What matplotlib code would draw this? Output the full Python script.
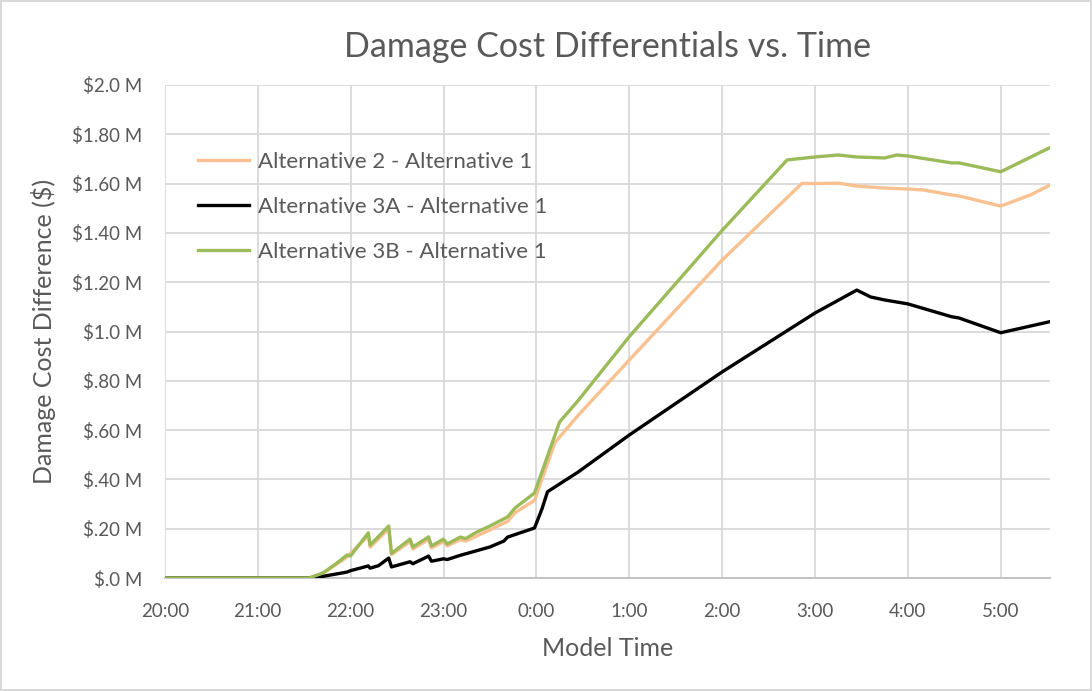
import matplotlib.pyplot as plt

plt.rcParams['font.family'] = ['Lato', 'DejaVu Sans']

# Time axis in hours after 20:00
hour_ticks = [0, 1, 2, 3, 4, 5, 6, 7, 8, 9]
hour_labels = ["20:00", "21:00", "22:00", "23:00", "0:00", "1:00", "2:00", "3:00", "4:00", "5:00"]

y_ticks = [0.0, 0.2, 0.4, 0.6, 0.8, 1.0, 1.2, 1.4, 1.6, 1.8, 2.0]
y_labels = ["$.0 M", "$.20 M", "$.40 M", "$.60 M", "$.80 M", "$1.0 M",
            "$1.20 M", "$1.40 M", "$1.60 M", "$1.80 M", "$2.0 M"]

# Alternative 2 - Alternative 1 (millions of $)
alt2_t = [0, 1.55, 1.7, 1.96, 2.19, 2.21, 2.41, 2.44, 2.64, 2.67, 2.84, 2.87,
          3.0, 3.04, 3.18, 3.24, 3.5, 3.69, 3.77, 3.98, 4.2, 4.45, 5.0, 6.0,
          6.86, 7.0, 7.25, 7.45, 7.75, 8.0, 8.17, 8.47, 8.55, 9.0, 9.32, 9.53]
alt2_v = [0, 0, 0.018, 0.085, 0.172, 0.125, 0.2, 0.095, 0.148, 0.118, 0.157, 0.122,
          0.148, 0.13, 0.155, 0.15, 0.195, 0.23, 0.265, 0.315, 0.55, 0.66, 0.884, 1.29,
          1.601, 1.60, 1.602, 1.59, 1.582, 1.578, 1.574, 1.554, 1.55, 1.509, 1.554, 1.594]

# Alternative 3A - Alternative 1
alt3a_t = [0, 1.6, 1.75, 1.96, 2.0, 2.19, 2.21, 2.30, 2.41, 2.44, 2.64, 2.67,
           2.84, 2.87, 3.0, 3.04, 3.18, 3.35, 3.5, 3.65, 3.69, 3.98, 4.06, 4.12,
           4.45, 5.0, 6.0, 7.0, 7.45, 7.6, 7.75, 8.0, 8.47, 8.55, 9.0, 9.53]
alt3a_v = [0, 0, 0.01, 0.024, 0.03, 0.049, 0.04, 0.05, 0.081, 0.045, 0.066, 0.058,
           0.089, 0.068, 0.078, 0.075, 0.092, 0.11, 0.126, 0.15, 0.166, 0.203, 0.28, 0.35,
           0.43, 0.58, 0.836, 1.075, 1.168, 1.14, 1.128, 1.112, 1.06, 1.055, 0.995, 1.04]

# Alternative 3B - Alternative 1
alt3b_t = [0, 1.55, 1.7, 1.85, 1.96, 2.0, 2.19, 2.21, 2.41, 2.44, 2.64, 2.67,
           2.84, 2.87, 3.0, 3.04, 3.18, 3.24, 3.35, 3.5, 3.69, 3.77, 3.98, 4.25,
           4.45, 5.0, 6.0, 6.70, 7.0, 7.25, 7.45, 7.75, 7.88, 8.0, 8.47, 8.55, 9.0, 9.53]
alt3b_v = [0, 0, 0.02, 0.06, 0.093, 0.09, 0.183, 0.134, 0.211, 0.10, 0.158, 0.126,
           0.167, 0.13, 0.158, 0.138, 0.166, 0.160, 0.185, 0.211, 0.248, 0.284, 0.345, 0.633,
           0.72, 0.979, 1.41, 1.696, 1.708, 1.716, 1.708, 1.704, 1.716, 1.712, 1.684, 1.684, 1.648, 1.746]

text_color = '#595959'

fig = plt.figure(figsize=(10.92, 6.91), dpi=100)
fig.patch.set_edgecolor('#d9d9d9')
fig.patch.set_linewidth(1.5)
ax = fig.add_axes([0.151, 0.1635, 0.8105, 0.7135])

ax.plot(alt2_t, alt2_v, color='#F9C18F', lw=2.4, label='Alternative 2 - Alternative 1', zorder=3)
ax.plot(alt3a_t, alt3a_v, color='black', lw=2.4, label='Alternative 3A - Alternative 1', zorder=4)
ax.plot(alt3b_t, alt3b_v, color='#9BBB59', lw=2.4, label='Alternative 3B - Alternative 1', zorder=5)

ax.set_xlim(0, 9.53)
ax.set_ylim(0, 2.0)
ax.set_xticks(hour_ticks)
ax.set_xticklabels(hour_labels)
ax.set_yticks(y_ticks)
ax.set_yticklabels(y_labels)
ax.tick_params(axis='both', length=0, colors=text_color, labelsize=13.5)
ax.tick_params(axis='x', pad=18)
ax.tick_params(axis='y', pad=16)

ax.grid(True, color='#d9d9d9', lw=1.3)
ax.set_axisbelow(True)
for side in ['top', 'right', 'left']:
    ax.spines[side].set_visible(False)
ax.spines['bottom'].set_color('#bfbfbf')
ax.spines['bottom'].set_linewidth(1.3)

ax.set_title('Damage Cost Differentials vs. Time', fontsize=24.5, color=text_color, pad=20)
ax.set_xlabel('Model Time', fontsize=18, color=text_color, labelpad=12)
ax.set_ylabel('Damage Cost Difference ($)', fontsize=18, color=text_color, labelpad=12)

ax.legend(loc='upper left', bbox_to_anchor=(0.015, 0.905), frameon=False,
          fontsize=16, labelcolor=text_color, handlelength=2.3, handletextpad=0.4,
          labelspacing=1.12)

fig.savefig('out.png', dpi=100)
